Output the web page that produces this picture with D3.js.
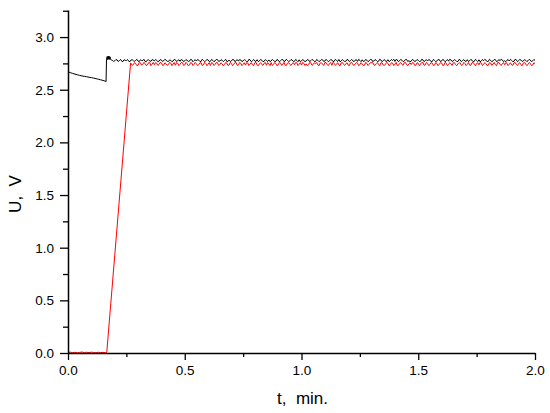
<!DOCTYPE html>
<html>
<head>
<meta charset="utf-8">
<script src="https://cdn.jsdelivr.net/npm/d3@7"></script>
<style>
html,body{margin:0;padding:0;background:#fff;}
svg{display:block;}
text{font-family:"Liberation Sans",Arial,sans-serif;fill:#000;white-space:pre;}
</style>
</head>
<body>
<svg id="chart" width="550" height="413"></svg>
<script>
// ---- data ----
const xTickLabels = ["0.0","0.5","1.0","1.5","2.0"];
const yTickLabels = ["0.0","0.5","1.0","1.5","2.0","2.5","3.0"];
const xTitle = "t,  min.";
const yTitle = "U,  V";

// black series: early decay + jump
const blackHeadT = [0,0.01,0.02,0.03,0.04,0.05,0.06,0.07,0.08,0.09,0.10,0.11,0.12,0.13,0.14,0.15,0.16,0.163,
  0.165,0.168,0.170,0.172,0.174,0.176,0.178,0.180,0.182,0.185];
const blackHeadU = [2.670,2.662,2.655,2.648,2.642,2.636,2.631,2.627,2.623,2.619,2.615,2.610,2.605,2.600,2.594,2.588,2.581,2.577,
  2.790,2.815,2.785,2.820,2.790,2.818,2.788,2.812,2.790,2.782];
// black steady part: samples at 0.19, 0.20, ... 2.00
const blackTailStart = 0.19;
const blackTailU = [
2.780,2.774,2.783,2.776,2.771,2.785,2.777,2.770,2.782,2.775,
2.779,2.772,2.784,2.776,2.769,2.781,2.774,2.786,2.773,2.778,
2.771,2.783,2.775,2.780,2.768,2.779,2.773,2.784,2.776,2.770,
2.782,2.774,2.779,2.771,2.785,2.777,2.772,2.781,2.769,2.778,
2.775,2.783,2.770,2.779,2.774,2.786,2.772,2.780,2.776,2.769,
2.781,2.773,2.784,2.777,2.771,2.782,2.775,2.779,2.768,2.783,
2.776,2.772,2.785,2.774,2.780,2.770,2.778,2.783,2.773,2.777,
2.769,2.781,2.775,2.786,2.772,2.779,2.774,2.782,2.770,2.778,
2.784,2.773,2.777,2.771,2.783,2.776,2.780,2.768,2.779,2.774,
2.785,2.772,2.778,2.775,2.782,2.770,2.779,2.787,2.773,2.776,
2.771,2.783,2.777,2.774,2.781,2.769,2.778,2.784,2.772,2.780,
2.775,2.786,2.773,2.779,2.770,2.782,2.776,2.771,2.785,2.774,
2.778,2.769,2.783,2.775,2.780,2.772,2.787,2.776,2.771,2.781,
2.774,2.779,2.770,2.784,2.777,2.773,2.782,2.768,2.778,2.775,
2.786,2.772,2.780,2.776,2.771,2.783,2.774,2.779,2.769,2.782,
2.777,2.773,2.785,2.775,2.780,2.770,2.778,2.784,2.772,2.776,
2.781,2.769,2.779,2.774,2.786,2.771,2.777,2.783,2.775,2.780,
2.772,2.778,2.770,2.784,2.776,2.781,2.773,2.779,2.775,2.782,
2.774,2.779];
// black steady part: in-between samples at 0.195, 0.205, ... 1.995
const blackMidU = [
2.769,2.786,2.768,2.788,2.767,2.779,2.787,2.766,2.785,2.770,
2.788,2.767,2.778,2.789,2.766,2.784,2.769,2.781,2.787,2.767,
2.786,2.768,2.789,2.770,2.783,2.766,2.788,2.768,2.785,2.787,
2.767,2.786,2.769,2.788,2.766,2.785,2.787,2.768,2.789,2.767,
2.786,2.768,2.788,2.766,2.787,2.769,2.785,2.767,2.789,2.770,
2.768,2.788,2.766,2.786,2.787,2.767,2.785,2.768,2.789,2.766,
2.787,2.769,2.767,2.788,2.766,2.786,2.768,2.767,2.788,2.769,
2.787,2.766,2.785,2.768,2.789,2.767,2.786,2.769,2.788,2.766,
2.767,2.787,2.768,2.786,2.766,2.788,2.769,2.787,2.767,2.785,
2.768,2.789,2.766,2.787,2.767,2.788,2.769,2.766,2.786,2.768,
2.787,2.767,2.788,2.766,2.785,2.789,2.767,2.768,2.787,2.766,
2.788,2.767,2.786,2.768,2.789,2.766,2.787,2.769,2.767,2.786,
2.789,2.787,2.766,2.788,2.767,2.786,2.768,2.766,2.788,2.767,
2.787,2.768,2.789,2.766,2.786,2.787,2.767,2.788,2.766,2.785,
2.767,2.788,2.766,2.787,2.789,2.768,2.786,2.767,2.788,2.766,
2.786,2.768,2.767,2.788,2.766,2.789,2.767,2.766,2.787,2.788,
2.767,2.789,2.766,2.786,2.768,2.787,2.788,2.767,2.766,2.786,
2.788,2.767,2.789,2.766,2.787,2.768,2.786,2.767,2.788,2.766,
2.787];

// red series: zero level + ramp
const redHeadT = [0,0.01,0.02,0.03,0.04,0.05,0.06,0.07,0.08,0.09,0.10,0.11,0.12,0.13,0.14,0.15,0.16,0.166,0.268];
const redHeadU = [0.004,0.008,0.003,0.007,0.002,0.006,0.009,0.004,0.007,0.003,0.008,0.005,0.002,0.007,0.004,0.006,0.003,0.005,2.752];
// red steady part: samples at 0.27, 0.28, ... 2.00
const redTailStart = 0.27;
const redTailU = [
2.752,2.738,2.747,2.733,2.756,2.741,2.749,2.735,2.758,2.743,
2.737,2.751,2.740,2.755,2.734,2.746,2.739,2.753,2.744,2.732,
2.750,2.742,2.757,2.736,2.748,2.733,2.754,2.741,2.746,2.738,
2.756,2.735,2.749,2.743,2.731,2.752,2.740,2.757,2.737,2.745,
2.739,2.754,2.734,2.748,2.742,2.758,2.736,2.750,2.741,2.733,
2.753,2.744,2.738,2.755,2.735,2.747,2.740,2.751,2.732,2.746,
2.757,2.739,2.749,2.736,2.754,2.743,2.734,2.752,2.741,2.748,
2.737,2.756,2.742,2.733,2.750,2.745,2.738,2.755,2.740,2.747,
2.735,2.753,2.744,2.758,2.739,2.749,2.732,2.751,2.743,2.736,
2.754,2.741,2.748,2.734,2.756,2.738,2.746,2.752,2.737,2.745,
2.733,2.750,2.742,2.757,2.736,2.748,2.740,2.755,2.735,2.744,
2.751,2.738,2.753,2.743,2.732,2.749,2.741,2.756,2.737,2.746,
2.739,2.754,2.734,2.750,2.744,2.758,2.736,2.747,2.740,2.752,
2.735,2.748,2.742,2.755,2.733,2.751,2.739,2.746,2.757,2.738,
2.745,2.753,2.737,2.749,2.741,2.734,2.756,2.743,2.750,2.736,
2.752,2.740,2.747,2.733,2.754,2.744,2.738,2.757,2.742,2.748,
2.736,2.751,2.743,2.735,2.755,2.740,2.749,2.737,2.753,2.745,
2.739,2.750,2.734,2.747];
// red steady part: in-between samples at 0.275, 0.285, ... 1.995
const redMidU = [
2.731,2.758,2.729,2.757,2.733,2.760,2.730,2.756,2.728,2.759,
2.757,2.730,2.759,2.729,2.756,2.732,2.760,2.728,2.758,2.757,
2.729,2.758,2.731,2.760,2.728,2.757,2.730,2.759,2.729,2.756,
2.730,2.760,2.728,2.758,2.757,2.729,2.759,2.731,2.756,2.728,
2.758,2.730,2.760,2.729,2.757,2.731,2.759,2.728,2.756,2.758,
2.729,2.757,2.730,2.760,2.728,2.758,2.731,2.759,2.757,2.729,
2.730,2.759,2.728,2.757,2.731,2.760,2.729,2.756,2.730,2.758,
2.759,2.729,2.757,2.760,2.730,2.728,2.758,2.731,2.756,2.759,
2.728,2.757,2.730,2.759,2.729,2.758,2.760,2.731,2.757,2.728,
2.759,2.730,2.756,2.729,2.760,2.731,2.758,2.728,2.757,2.730,
2.760,2.729,2.758,2.757,2.731,2.759,2.728,2.756,2.730,2.760,
2.728,2.757,2.729,2.759,2.730,2.758,2.731,2.760,2.729,2.756,
2.758,2.730,2.757,2.728,2.759,2.731,2.760,2.729,2.757,2.730,
2.759,2.728,2.756,2.730,2.760,2.729,2.758,2.731,2.757,2.728,
2.757,2.731,2.760,2.729,2.758,2.730,2.759,2.728,2.756,2.760,
2.729,2.758,2.730,2.757,2.731,2.759,2.728,2.760,2.730,2.757,
2.758,2.729,2.756,2.731,2.759,2.730,2.757,2.728,2.760,2.729,
2.758,2.730,2.757];

// ---- build series (interleave regular and in-between samples) ----
const sampleStep = 0.01;
function buildSeries(headT, headU, tailStart, tailU, midU){
  const pts = headT.map((t,i)=>({t:t,u:headU[i]}));
  tailU.forEach((u,i)=>{
    pts.push({t:+(tailStart + i*sampleStep).toFixed(3), u:u});
    if (i < midU.length) pts.push({t:+(tailStart + i*sampleStep + sampleStep/2).toFixed(3), u:midU[i]});
  });
  return pts;
}
const blackData = buildSeries(blackHeadT, blackHeadU, blackTailStart, blackTailU, blackMidU);
const redData = buildSeries(redHeadT, redHeadU, redTailStart, redTailU, redMidU);

// ---- layout ----
const svg = d3.select("#chart");
const mLeft = 68, mRight = 535, mTop = 10, mBottom = 353;
const x = d3.scaleLinear().domain([0, 2.0]).range([mLeft, mRight]);
const y = d3.scaleLinear().domain([0, 3.257]).range([mBottom, mTop]);

const xMajor = xTickLabels.map(Number);
const yMajor = yTickLabels.map(Number);
const xMinor = [0.25,0.75,1.25,1.75];
const yMinor = [0.25,0.75,1.25,1.75,2.25,2.75,3.25];

// lines
const line = d3.line().x(d=>x(d.t)).y(d=>y(d.u));
svg.append("path").datum(redData).attr("d", line)
  .attr("fill","none").attr("stroke","#ff0000").attr("stroke-width",1);
svg.append("path").datum(blackData).attr("d", line)
  .attr("fill","none").attr("stroke","#000").attr("stroke-width",1);

// axes
svg.append("g").attr("transform",`translate(0,${mBottom})`)
  .call(d3.axisBottom(x).tickValues(xMajor).tickFormat((d,i)=>xTickLabels[i]).tickSize(7).tickSizeOuter(0).tickPadding(5));
svg.append("g").attr("transform",`translate(0,${mBottom})`)
  .call(d3.axisBottom(x).tickValues(xMinor).tickFormat("").tickSize(4).tickSizeOuter(0))
  .select(".domain").remove();
svg.append("g").attr("transform",`translate(${mLeft},0)`)
  .call(d3.axisLeft(y).tickValues(yMajor).tickFormat((d,i)=>yTickLabels[i]).tickSize(8).tickSizeOuter(0).tickPadding(6));
svg.append("g").attr("transform",`translate(${mLeft},0)`)
  .call(d3.axisLeft(y).tickValues(yMinor).tickFormat("").tickSize(5).tickSizeOuter(0))
  .select(".domain").remove();

svg.selectAll(".domain").attr("stroke","#000").attr("stroke-width",1.5);
svg.selectAll(".tick line").attr("stroke","#000").attr("stroke-width",1.3);
svg.selectAll(".tick text").attr("font-size","13.5px").attr("font-family","'Liberation Sans', Arial, sans-serif").attr("fill","#000");

// titles
svg.append("text").attr("x",(mLeft+mRight)/2+1).attr("y",404).attr("xml:space","preserve")
  .attr("text-anchor","middle").attr("font-size","17px").text(xTitle);
svg.append("text").attr("transform","translate(21,194) rotate(-90)").attr("xml:space","preserve")
  .attr("text-anchor","middle").attr("font-size","17px").text(yTitle);
</script>
</body>
</html>
